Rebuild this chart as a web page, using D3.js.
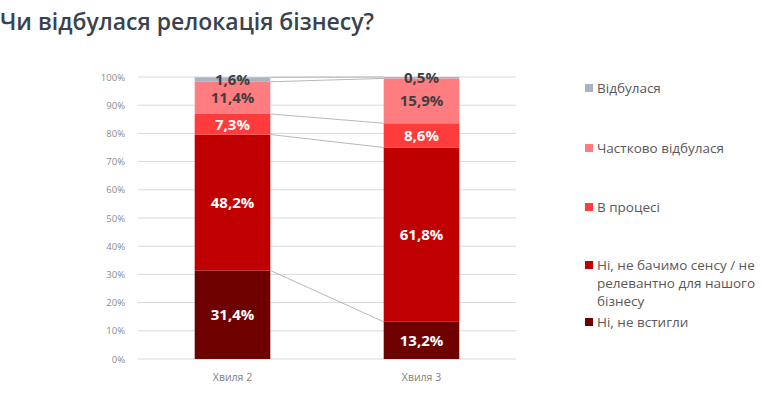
<!DOCTYPE html>
<html>
<head>
<meta charset="utf-8">
<script src="https://cdn.jsdelivr.net/npm/d3@7"></script>
<style>
  body { margin: 0; background: #fff; }
  svg { display: block; font-family: "Open Sans", "Noto Sans", sans-serif; }
</style>
</head>
<body>
<div id="chart"></div>
<script>
// Дані діаграми
const waves = ["Хвиля 2", "Хвиля 3"];
const seriesNames = ["Ні, не встигли", "Ні, не бачимо сенсу / не релевантно для нашого бізнесу", "В процесі", "Частково відбулася", "Відбулася"];
const seriesColors = ["#6f0000", "#c00000", "#ff3b3b", "#ff7c80", "#a9b3c6"];
const labelColors = ["#ffffff", "#ffffff", "#ffffff", "#404040", "#404040"];
const wave2Values = [31.4, 48.2, 7.3, 11.4, 1.6];
const wave3Values = [13.2, 61.8, 8.6, 15.9, 0.5];
const tickValues = [0, 10, 20, 30, 40, 50, 60, 70, 80, 90, 100];

// Легенда (зверху вниз) з розбиттям на рядки
const legendItems = [
    { idx: 4, lines: ["Відбулася"], y: 88 },
    { idx: 3, lines: ["Частково відбулася"], y: 148 },
    { idx: 2, lines: ["В процесі"], y: 207 },
    { idx: 1, lines: ["Ні, не бачимо сенсу / не", "релевантно для нашого", "бізнесу"], y: 265 },
    { idx: 0, lines: ["Ні, не встигли"], y: 322 }
];

var width = 764, height = 406;
var margin = { top: 77, right: 248, bottom: 47, left: 138 };

var svg = d3.select("#chart").append("svg")
    .attr("width", width)
    .attr("height", height);

// Заголовок
svg.append("text")
    .attr("x", 0)
    .attr("y", 30)
    .style("font-size", "23px")
    .style("font-weight", "600")
    .style("fill", "#3a4250")
    .text("Чи відбулася релокація бізнесу?");

var x = d3.scaleBand()
    .domain(waves)
    .range([margin.left, width - margin.right])
    .paddingInner(0.6)
    .paddingOuter(0.3);

var y = d3.scaleLinear()
    .domain([0, 100])
    .range([height - margin.bottom, margin.top]);

// Сітка
svg.append("g")
    .selectAll("line")
    .data(tickValues)
    .enter().append("line")
    .attr("x1", margin.left)
    .attr("x2", width - margin.right)
    .attr("y1", d => y(d))
    .attr("y2", d => y(d))
    .attr("stroke", "#d9d9d9")
    .attr("stroke-width", 1);

// Вісь Y
var yAxis = svg.append("g")
    .attr("transform", "translate(" + (margin.left - 10) + ",0)")
    .call(d3.axisLeft(y).tickValues(tickValues).tickSize(0).tickFormat(d => d + "%"));
yAxis.select(".domain").remove();
yAxis.selectAll("text")
    .style("font-size", "9.5px")
    .style("font-family", "Open Sans, sans-serif")
    .style("fill", "#8c8c8c");

// Вісь X
var xAxis = svg.append("g")
    .attr("transform", "translate(0," + (height - margin.bottom + 12) + ")")
    .call(d3.axisBottom(x).tickSize(0));
xAxis.select(".domain").remove();
xAxis.selectAll("text")
    .style("font-size", "10.5px")
    .style("font-family", "Open Sans, sans-serif")
    .style("fill", "#7f7f7f");

// Стек
const rows = [wave2Values, wave3Values].map((vals, i) => {
    const obj = { wave: waves[i] };
    seriesNames.forEach((s, j) => { obj[s] = vals[j]; });
    return obj;
});
const stacked = d3.stack().keys(seriesNames)(rows);

// Лінії між стовпцями
svg.append("g")
    .selectAll("line")
    .data(stacked)
    .enter().append("line")
    .attr("x1", x(waves[0]) + x.bandwidth())
    .attr("x2", x(waves[1]))
    .attr("y1", d => y(d[0][1]))
    .attr("y2", d => y(d[1][1]))
    .attr("stroke", "#a6a6a6")
    .attr("stroke-width", 0.8);

// Стовпці
var groups = svg.append("g")
    .selectAll("g")
    .data(stacked)
    .enter().append("g")
    .attr("fill", (d, i) => seriesColors[i]);

groups.selectAll("rect")
    .data(d => d)
    .enter().append("rect")
    .attr("x", d => x(d.data.wave))
    .attr("y", d => y(d[1]))
    .attr("width", x.bandwidth())
    .attr("height", d => y(d[0]) - y(d[1]));

// Підписи значень
groups.each(function(s, i) {
    d3.select(this).selectAll("text")
        .data(s)
        .enter().append("text")
        .attr("x", d => x(d.data.wave) + x.bandwidth() / 2)
        .attr("y", d => y((d[0] + d[1]) / 2))
        .attr("dy", "0.36em")
        .attr("text-anchor", "middle")
        .style("font-size", "15px")
        .style("font-weight", "700")
        .style("fill", labelColors[i])
        .text(d => (d[1] - d[0]).toFixed(1).replace(".", ",") + "%");
});

// Легенда
var legend = svg.append("g")
    .selectAll("g")
    .data(legendItems)
    .enter().append("g")
    .attr("transform", d => "translate(585," + d.y + ")");

legend.append("rect")
    .attr("x", 0)
    .attr("y", -4)
    .attr("width", 8)
    .attr("height", 8)
    .attr("fill", d => seriesColors[d.idx]);

legend.each(function(d) {
    d3.select(this).selectAll("text")
        .data(d.lines)
        .enter().append("text")
        .attr("x", 12)
        .attr("y", (t, k) => k * 18)
        .attr("dy", "0.36em")
        .style("font-size", "13.5px")
        .style("fill", "#595959")
        .text(t => t);
});
</script>
</body>
</html>
